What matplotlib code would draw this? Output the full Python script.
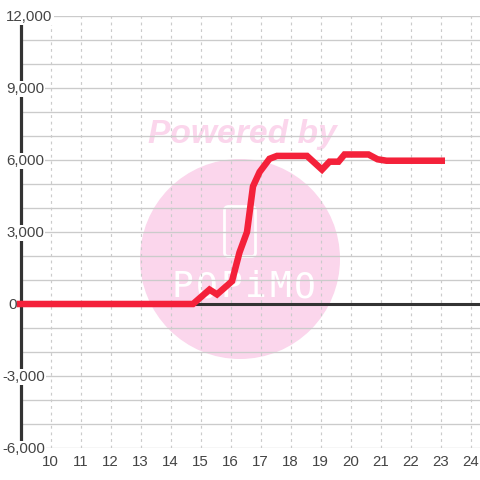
import matplotlib
matplotlib.use("Agg")
import matplotlib.pyplot as plt
from matplotlib.patches import Circle, FancyBboxPatch

hours = [8.87, 14.75, 15.3, 15.55, 16.05, 16.3, 16.55, 16.75, 16.97, 17.3, 17.55, 18.55,
         19.05, 19.3, 19.6, 19.8, 20.6, 20.9, 21.2, 23.15]
values = [0, 0, 600, 400, 950, 2150, 3000, 4900, 5500, 6050, 6170, 6170,
          5600, 5930, 5930, 6230, 6230, 6030, 5970, 5970]
x_ticks = list(range(10, 25))
y_major = [12000, 9000, 6000, 3000, 0, -3000, -6000]
y_labels = ["12,000", "9,000", "6,000", "3,000", "0", "-3,000", "-6,000"]
y_label_left = [6, 6, 6, 6, 8, 2, 2]
y_grid = list(range(-6000, 12001, 1000))
logo_letters = ["P", "O", "P", "i", "M", "O"]

TEXT = "#444444"
plt.rcParams["font.family"] = ["Liberation Sans", "DejaVu Sans"]
fig = plt.figure(figsize=(4.8, 4.8), dpi=100)
ax = fig.add_axes([20.5 / 480, 1 - 448 / 480, (480 - 20.5) / 480, (448 - 16) / 480])
ax.set_xlim(9, 9 + (480 - 20.5) / 30)
ax.set_ylim(-6000, 12000)
for s in ax.spines.values():
    s.set_visible(False)
ax.set_xticks([])
ax.set_yticks([])
ax.patch.set_alpha(0)

# watermark
PINK = "#fbd6ec"
ov = fig.add_axes([0, 0, 1, 1], zorder=-1)
ov.set_xlim(0, 480); ov.set_ylim(480, 0); ov.axis("off")
ov.add_patch(Circle((240, 259), 100, fc=PINK, ec="none"))
ov.add_patch(FancyBboxPatch((224.5, 206.5), 31, 50, boxstyle="round,pad=0,rounding_size=4",
                            fc="none", ec="white", lw=2))
ov.text(242.5, 134.5, "Powered by", fontsize=24.2, fontweight="bold", style="italic",
        color=PINK, ha="center", va="center")
for i, ch in enumerate(logo_letters):
    ov.text(182 + 24.5 * i, 287, ch, fontsize=26, color="white", ha="center", va="center",
            family="DejaVu Sans Mono")

for y in y_grid:
    ax.axhline(y, color="#cbcbcb", lw=0.95, zorder=1)
for x in x_ticks:
    ax.axvline(x, color="#cbcbcb", lw=0.85, ls=(0, (2.4, 3.2)), zorder=1)

ax.axhline(0, color="#333333", lw=2.2, zorder=2)
ax.axvline(9, color="#333333", lw=2.3, zorder=2, clip_on=False)
ax.plot(hours, values, color="#f4213a", lw=4.7, zorder=3, solid_joinstyle="miter",
        solid_capstyle="butt", clip_on=False)

for x in x_ticks:
    ax.text(x, -6000 - 590, str(x), ha="center", va="center", fontsize=10.8, color=TEXT, zorder=5)
for y, lab, left in zip(y_major, y_labels, y_label_left):
    xx = 9 + (left - 20.5) / 30
    bbox = dict(fc="white", ec="none", pad=1.0) if y != 0 else None
    ax.text(xx, y - 40, lab, ha="left", va="center", fontsize=10.8, color=TEXT,
            zorder=2.5 if y != 0 else 5, clip_on=False, bbox=bbox)

fig.savefig("out.png", dpi=100)
